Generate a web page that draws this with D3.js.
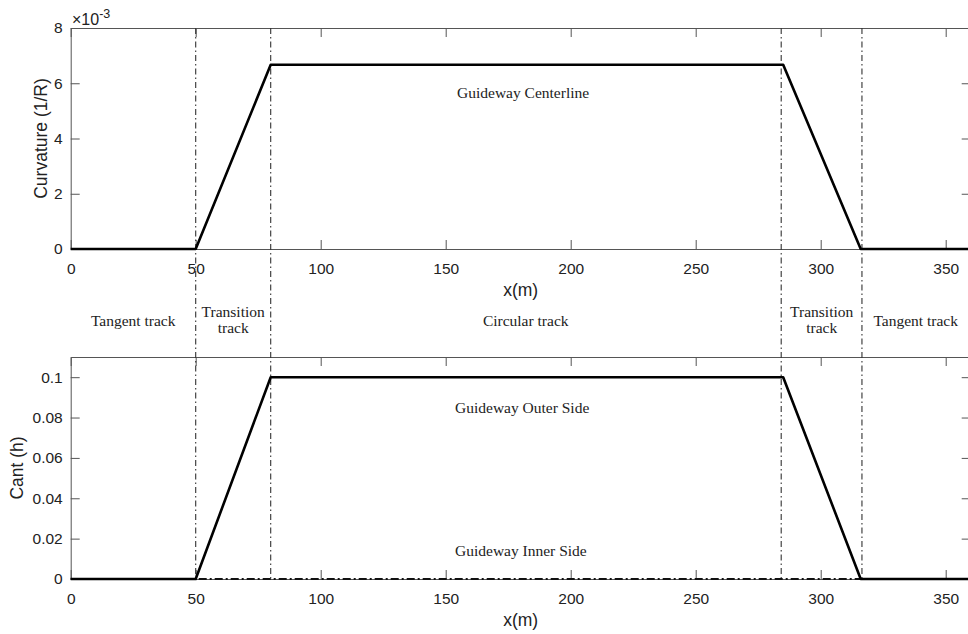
<!DOCTYPE html>
<html>
<head>
<meta charset="utf-8">
<script src="https://cdn.jsdelivr.net/npm/d3@7"></script>
<style>
  body { margin: 0; background: #fff; }
  svg { display: block; }
  .tick text { font-family: "Liberation Sans", Arial, sans-serif; font-size: 15.5px; fill: #222; }
  .lbl { font-family: "Liberation Sans", Arial, sans-serif; font-size: 17.5px; fill: #222; }
  .note { font-family: "Liberation Serif", "Times New Roman", serif; font-size: 15.5px; fill: #222; }
</style>
</head>
<body>
<svg id="chart" width="968" height="634"></svg>
<script>
'use strict';

// data
const stationX    = [0, 50, 80, 285, 316, 360];
const curvature   = [0, 0, 0.00667, 0.00667, 0, 0];
const cantOuter   = [0, 0, 0.1, 0.1, 0, 0];
const cantInner   = [0, 0, 0, 0, 0, 0];
const boundaries  = [50, 80, 284.2, 316.5];
const xTicks      = [0, 50, 100, 150, 200, 250, 300, 350];
const curvTicks   = [0, 0.002, 0.004, 0.006, 0.008];
const cantTicks   = [0, 0.02, 0.04, 0.06, 0.08, 0.1];
const regionNames = [
  { x: 25,    lines: ['Tangent track'] },
  { x: 65,    lines: ['Transition', 'track'] },
  { x: 182,   lines: ['Circular track'] },
  { x: 300.4, lines: ['Transition', 'track'] },
  { x: 338,   lines: ['Tangent track'] }
];

const svg = d3.select('#chart');
const axisColor = '#555';

const x = d3.scaleLinear().domain([0, 360]).range([70.7, 970.7]);
const yCurv = d3.scaleLinear().domain([0, 0.008]).range([249, 28]);
const yCant = d3.scaleLinear().domain([0, 0.11]).range([579, 357]);

const tickLen = 9;

// draws a matlab-like boxed axes with inward ticks
function drawAxes(y, yTickVals, yFmt) {
  const [y0, y1] = y.range();
  const g = svg.append('g');

  // bottom axis
  g.append('g')
      .attr('transform', `translate(0,${y0})`)
      .call(d3.axisBottom(x).tickValues(xTicks).tickSizeInner(-tickLen).tickSizeOuter(0).tickPadding(14))
      .call(a => a.select('.domain').attr('stroke', axisColor))
      .call(a => a.selectAll('.tick line').attr('stroke', axisColor));
  // top axis
  g.append('g')
      .attr('transform', `translate(0,${y1})`)
      .call(d3.axisTop(x).tickValues(xTicks).tickSizeInner(-tickLen).tickSizeOuter(0).tickFormat(''))
      .call(a => a.select('.domain').attr('stroke', axisColor))
      .call(a => a.selectAll('.tick line').attr('stroke', axisColor));
  // left axis
  g.append('g')
      .attr('transform', `translate(${x(0)},0)`)
      .call(d3.axisLeft(y).tickValues(yTickVals).tickSizeInner(-tickLen).tickSizeOuter(0).tickPadding(8).tickFormat(yFmt))
      .call(a => a.select('.domain').attr('stroke', axisColor))
      .call(a => a.selectAll('.tick line').attr('stroke', axisColor));
  // right axis
  g.append('g')
      .attr('transform', `translate(${x(360)},0)`)
      .call(d3.axisRight(y).tickValues(yTickVals).tickSizeInner(-tickLen).tickSizeOuter(0).tickFormat(''))
      .call(a => a.select('.domain').attr('stroke', axisColor))
      .call(a => a.selectAll('.tick line').attr('stroke', axisColor));

  // x label
  g.append('text')
      .attr('class', 'lbl')
      .attr('x', (x(0) + x(360)) / 2)
      .attr('y', y0 + 47)
      .attr('text-anchor', 'middle')
      .text('x(m)');
}

drawAxes(yCurv, curvTicks, d => d3.format('d')(d * 1000));
drawAxes(yCant, cantTicks, d => d === 0 ? '0' : d3.format('')(+d.toFixed(2)));

// y labels
svg.append('text')
    .attr('class', 'lbl')
    .attr('transform', `translate(47,${(yCurv.range()[0] + yCurv.range()[1]) / 2}) rotate(-90)`)
    .attr('text-anchor', 'middle')
    .text('Curvature (1/R)');
svg.append('text')
    .attr('class', 'lbl')
    .attr('transform', `translate(23,${(yCant.range()[0] + yCant.range()[1]) / 2}) rotate(-90)`)
    .attr('text-anchor', 'middle')
    .text('Cant (h)');

// exponent
const expo = svg.append('text')
    .attr('class', 'lbl')
    .attr('x', 72)
    .attr('y', 25)
    .style('font-size', '16px');
expo.append('tspan').text('\u00d710');
expo.append('tspan').attr('dy', -7).style('font-size', '12.5px').text('-3');

// section boundaries
svg.append('g')
  .selectAll('line')
  .data(boundaries)
  .join('line')
    .attr('x1', d => x(d))
    .attr('x2', d => x(d))
    .attr('y1', yCurv.range()[1])
    .attr('y2', yCant.range()[0])
    .attr('stroke', '#333')
    .attr('stroke-width', 1.1)
    .attr('stroke-dasharray', '6,3,1.5,3');

// section names
const names = svg.append('g')
  .selectAll('text')
  .data(regionNames)
  .join('text')
    .attr('class', 'note')
    .attr('text-anchor', 'middle')
    .attr('x', d => x(d.x))
    .attr('y', d => d.lines.length > 1 ? 317 : 326);
names.selectAll('tspan')
  .data(d => d.lines.map(l => ({ l, x: x(d.x) })))
  .join('tspan')
    .attr('x', d => d.x)
    .attr('dy', (d, i) => i ? 16 : 0)
    .text(d => d.l);

// curves
const pts = vals => stationX.map((s, i) => [s, vals[i]]);

svg.append('path')
    .attr('d', d3.line().x(d => x(d[0])).y(d => yCant(d[1]))(pts(cantInner)))
    .attr('fill', 'none')
    .attr('stroke', '#111')
    .attr('stroke-width', 1.8)
    .attr('stroke-dasharray', '8,3,2,3');

[[yCurv, curvature], [yCant, cantOuter]].forEach(([y, vals]) => {
  svg.append('path')
      .attr('d', d3.line().x(d => x(d[0])).y(d => y(d[1]))(pts(vals)))
      .attr('fill', 'none')
      .attr('stroke', '#000')
      .attr('stroke-width', 2.6)
      .attr('stroke-linejoin', 'round');
});

// curve annotations
svg.append('text').attr('class', 'note').attr('x', 457).attr('y', 98).text('Guideway Centerline');
svg.append('text').attr('class', 'note').attr('x', 455).attr('y', 413).text('Guideway Outer Side');
svg.append('text').attr('class', 'note').attr('x', 455).attr('y', 556).text('Guideway Inner Side');
</script>
</body>
</html>
